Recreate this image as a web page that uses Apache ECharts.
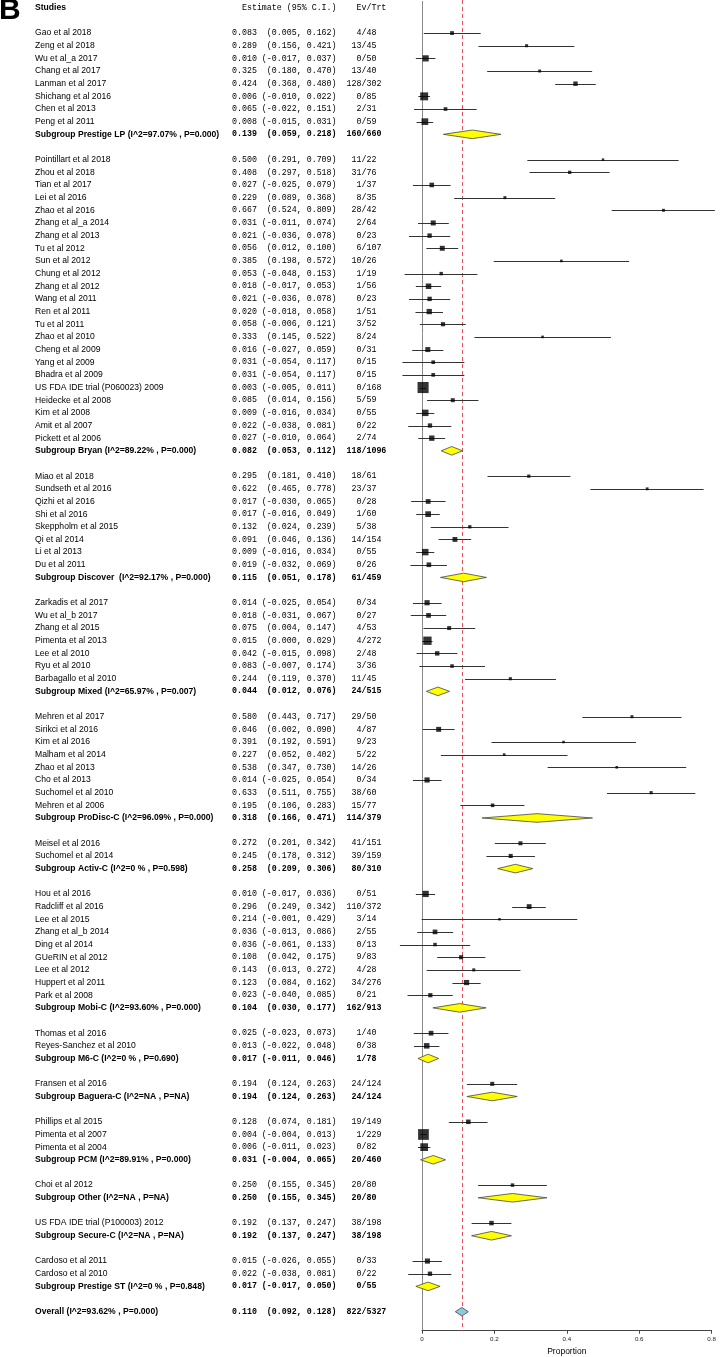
<!DOCTYPE html>
<html><head><meta charset="utf-8">
<script src="https://cdn.jsdelivr.net/npm/echarts@6/dist/echarts.min.js"></script>
<style>html,body{margin:0;padding:0;background:#fff}#c{width:720px;height:1357px}</style>
</head><body><div id="c"></div>
<script>
// ---- data ----
const headers = ['Studies', 'Estimate (95% C.I.)', 'Ev/Trt'];
const names = [
'Gao et al 2018','Zeng et al 2018','Wu et al_a 2017','Chang et al 2017','Lanman et al 2017','Shichang et al 2016','Chen et al 2013','Peng et al 2011','Subgroup Prestige LP (I^2=97.07% , P=0.000)','',
'Pointillart et al 2018','Zhou et al 2018','Tian et al 2017','Lei et al 2016','Zhao et al 2016','Zhang et al_a 2014','Zhang et al 2013','Tu et al 2012','Sun et al 2012','Chung et al 2012','Zhang et al 2012','Wang et al 2011','Ren et al 2011','Tu et al 2011','Zhao et al 2010','Cheng et al 2009','Yang et al 2009','Bhadra et al 2009','US FDA IDE trial (P060023) 2009','Heidecke et al 2008','Kim et al 2008','Amit et al 2007','Pickett et al 2006','Subgroup Bryan (I^2=89.22% , P=0.000)','',
'Miao et al 2018','Sundseth et al 2016','Qizhi et al 2016','Shi et al 2016','Skeppholm et al 2015','Qi et al 2014','Li et al 2013','Du et al 2011','Subgroup Discover  (I^2=92.17% , P=0.000)','',
'Zarkadis et al 2017','Wu et al_b 2017','Zhang et al 2015','Pimenta et al 2013','Lee et al 2010','Ryu et al 2010','Barbagallo et al 2010','Subgroup Mixed (I^2=65.97% , P=0.007)','',
'Mehren et al 2017','Sirikci et al 2016','Kim et al 2016','Malham et al 2014','Zhao et al 2013','Cho et al 2013','Suchomel et al 2010','Mehren et al 2006','Subgroup ProDisc-C (I^2=96.09% , P=0.000)','',
'Meisel et al 2016','Suchomel et al 2014','Subgroup Activ-C (I^2=0 % , P=0.598)','',
'Hou et al 2016','Radcliff et al 2016','Lee et al 2015','Zhang et al_b 2014','Ding et al 2014','GUeRIN et al 2012','Lee et al 2012','Huppert et al 2011','Park et al 2008','Subgroup Mobi-C (I^2=93.60% , P=0.000)','',
'Thomas et al 2016','Reyes-Sanchez et al 2010','Subgroup M6-C (I^2=0 % , P=0.690)','',
'Fransen et al 2016','Subgroup Baguera-C (I^2=NA , P=NA)','',
'Phillips et al 2015','Pimenta et al 2007','Pimenta et al 2004','Subgroup PCM (I^2=89.91% , P=0.000)','',
'Choi et al 2012','Subgroup Other (I^2=NA , P=NA)','',
'US FDA IDE trial (P100003) 2012','Subgroup Secure-C (I^2=NA , P=NA)','',
'Cardoso et al 2011','Cardoso et al 2010','Subgroup Prestige ST (I^2=0 % , P=0.848)','',
'Overall (I^2=93.62% , P=0.000)'
];
const est = [
0.083,0.289,0.010,0.325,0.424,0.006,0.065,0.008,0.139,null,
0.500,0.408,0.027,0.229,0.667,0.031,0.021,0.056,0.385,0.053,0.018,0.021,0.020,0.058,0.333,0.016,0.031,0.031,0.003,0.085,0.009,0.022,0.027,0.082,null,
0.295,0.622,0.017,0.017,0.132,0.091,0.009,0.019,0.115,null,
0.014,0.018,0.075,0.015,0.042,0.083,0.244,0.044,null,
0.580,0.046,0.391,0.227,0.538,0.014,0.633,0.195,0.318,null,
0.272,0.245,0.258,null,
0.010,0.296,0.214,0.036,0.036,0.108,0.143,0.123,0.023,0.104,null,
0.025,0.013,0.017,null,
0.194,0.194,null,
0.128,0.004,0.006,0.031,null,
0.250,0.250,null,
0.192,0.192,null,
0.015,0.022,0.017,null,
0.110];
const lower = [
0.005,0.156,-0.017,0.180,0.368,-0.010,-0.022,-0.015,0.059,null,
0.291,0.297,-0.025,0.089,0.524,-0.011,-0.036,0.012,0.198,-0.048,-0.017,-0.036,-0.018,-0.006,0.145,-0.027,-0.054,-0.054,-0.005,0.014,-0.016,-0.038,-0.010,0.053,null,
0.181,0.465,-0.030,-0.016,0.024,0.046,-0.016,-0.032,0.051,null,
-0.025,-0.031,0.004,0.000,-0.015,-0.007,0.119,0.012,null,
0.443,0.002,0.192,0.052,0.347,-0.025,0.511,0.106,0.166,null,
0.201,0.178,0.209,null,
-0.017,0.249,-0.001,-0.013,-0.061,0.042,0.013,0.084,-0.040,0.030,null,
-0.023,-0.022,-0.011,null,
0.124,0.124,null,
0.074,-0.004,-0.011,-0.004,null,
0.155,0.155,null,
0.137,0.137,null,
-0.026,-0.038,-0.017,null,
0.092];
const upper = [
0.162,0.421,0.037,0.470,0.480,0.022,0.151,0.031,0.218,null,
0.709,0.518,0.079,0.368,0.809,0.074,0.078,0.100,0.572,0.153,0.053,0.078,0.058,0.121,0.522,0.059,0.117,0.117,0.011,0.156,0.034,0.081,0.064,0.112,null,
0.410,0.778,0.065,0.049,0.239,0.136,0.034,0.069,0.178,null,
0.054,0.067,0.147,0.029,0.098,0.174,0.370,0.076,null,
0.717,0.090,0.591,0.402,0.730,0.054,0.755,0.283,0.471,null,
0.342,0.312,0.306,null,
0.036,0.342,0.429,0.086,0.133,0.175,0.272,0.162,0.085,0.177,null,
0.073,0.048,0.046,null,
0.263,0.263,null,
0.181,0.013,0.023,0.065,null,
0.345,0.345,null,
0.247,0.247,null,
0.055,0.081,0.050,null,
0.128];
const events = [
4,13,0,13,128,0,2,0,160,null,
11,31,1,8,28,2,0,6,10,1,1,0,1,3,8,0,0,0,0,5,0,0,2,118,null,
18,23,0,1,5,14,0,0,61,null,
0,0,4,4,2,3,11,24,null,
29,4,9,5,14,0,38,15,114,null,
41,39,80,null,
0,110,3,2,0,9,4,34,0,162,null,
1,0,1,null,
24,24,null,
19,1,0,20,null,
20,20,null,
38,38,null,
0,0,0,null,
822];
const totals = [
48,45,50,40,302,85,31,59,660,null,
22,76,37,35,42,64,23,107,26,19,56,23,51,52,24,31,15,15,168,59,55,22,74,1096,null,
61,37,28,60,38,154,55,26,459,null,
34,27,53,272,48,36,45,515,null,
50,87,23,22,26,34,60,77,379,null,
151,159,310,null,
51,372,14,55,13,83,28,276,21,913,null,
40,38,78,null,
124,124,null,
149,229,82,460,null,
80,80,null,
198,198,null,
33,22,55,null,
5327];
const xTicks = [0, 0.2, 0.4, 0.6, 0.8];
const xTickLabels = ['0', '0.2', '0.4', '0.6', '0.8'];
const xName = 'Proportion';
const panelLetter = 'B';

// ---- build ----
const nRows = names.length;
const cats = [];
for (let i = 0; i < nRows + 3; i++) cats.push(String(i));
const catOf = i => i + 2;
const kindOf = i => { const s = names[i]; if (!s) return ''; if (s.indexOf('Subgroup') === 0) return 'g'; if (s.indexOf('Overall') === 0) return 'o'; return 's'; };
function estText(i) {
  const l = lower[i];
  return est[i].toFixed(3) + (l < 0 ? ' ' : '  ') + '(' + l.toFixed(3) + ', ' + upper[i].toFixed(3) + ')' +
    '  ' + String(events[i]).padStart(3, ' ') + '/' + totals[i];
}
const ciData = [], boxData = [], diaData = [];
for (let i = 0; i < nRows; i++) {
  const k = kindOf(i);
  if (k === 's') {
    ciData.push([lower[i], upper[i], catOf(i)]);
    boxData.push([est[i], catOf(i), lower[i], upper[i]]);
  } else if (k === 'g' || k === 'o') {
    diaData.push([lower[i], est[i], upper[i], catOf(i), k === 'o' ? 1 : 0]);
  }
}
const overallEst = est[nRows - 1];

const SANS = '"Liberation Sans", Arial, sans-serif';
const MONO = '"Liberation Mono", "DejaVu Sans Mono", monospace';
const FS = 8.6, MFS = 8.3;

const chart = echarts.init(document.getElementById('c'), null, { renderer: 'canvas' });
chart.setOption({
  backgroundColor: '#fff',
  animation: false,
  graphic: [{
    type: 'text', left: -1, top: -4,
    style: { text: panelLetter, font: 'bold 30px ' + SANS, fill: '#000' }
  }],
  grid: { left: 422, right: 8.4, top: 1.4, bottom: 26.3, containLabel: false, outerBoundsMode: 'none' },
  xAxis: {
    type: 'value', min: 0, max: 0.8, interval: 0.2,
    name: xName, nameLocation: 'middle', nameGap: 14,
    nameTextStyle: { fontFamily: SANS, fontSize: 8.5, color: '#000' },
    axisLine: { show: true, lineStyle: { color: '#444', width: 1 } },
    axisTick: { show: true, length: 3, lineStyle: { color: '#444' } },
    splitLine: { show: false },
    axisLabel: {
      fontFamily: SANS, fontSize: 6.2, color: '#222', margin: 6,
      formatter: v => { const j = xTicks.findIndex(t => Math.abs(t - v) < 1e-9); return j >= 0 ? xTickLabels[j] : ''; }
    }
  },
  yAxis: [{
    type: 'category', data: cats, inverse: true, position: 'left',
    axisLine: { show: true, lineStyle: { color: '#8a8a8a', width: 1 } },
    axisTick: { show: false }, splitLine: { show: false },
    axisLabel: {
      interval: 0, align: 'left', verticalAlign: 'middle', margin: 387,
      fontFamily: SANS, fontSize: FS, color: '#000',
      formatter: (v, idx) => {
        if (idx === 0) return '{b|' + headers[0] + '}';
        const i = idx - 2;
        if (i < 0 || i >= nRows || !names[i]) return '';
        return kindOf(i) === 's' ? '{n|' + names[i] + '}' : '{b|' + names[i] + '}';
      },
      rich: {
        n: { fontFamily: SANS, fontSize: FS, color: '#000' },
        b: { fontFamily: SANS, fontSize: FS, fontWeight: 'bold', color: '#000' }
      }
    }
  }, {
    type: 'category', data: cats, inverse: true, position: 'left',
    axisLine: { show: false }, axisTick: { show: false }, splitLine: { show: false },
    axisLabel: {
      interval: 0, align: 'left', verticalAlign: 'middle', margin: 190,
      fontFamily: MONO, fontSize: MFS, color: '#000',
      formatter: (v, idx) => {
        if (idx === 0) return '{m|  ' + headers[1] + '    ' + headers[2] + '}';
        const i = idx - 2;
        if (i < 0 || i >= nRows || est[i] == null) return '';
        return kindOf(i) === 's' ? '{m|' + estText(i) + '}' : '{mb|' + estText(i) + '}';
      },
      rich: {
        m: { fontFamily: MONO, fontSize: MFS, color: '#000' },
        mb: { fontFamily: MONO, fontSize: MFS, fontWeight: 'bold', color: '#000' }
      }
    }
  }],
  series: [{
    name: 'ref', type: 'custom', clip: false, z: 1,
    xAxisIndex: 0, yAxisIndex: 0,
    data: [[overallEst, 0]], encode: { x: 0, y: 1 },
    renderItem: (params, api) => {
      const p = api.coord([api.value(0), 0]);
      const cs = params.coordSys;
      const x = Math.round(p[0]) + 0.5;
      return { type: 'line', shape: { x1: x, y1: 0, x2: x, y2: cs.y + cs.height }, style: { stroke: '#e8505a', lineWidth: 1, lineDash: [4, 3] } };
    }
  }, {
    name: 'ci', type: 'custom', clip: false, z: 2,
    xAxisIndex: 0, yAxisIndex: 0,
    data: ciData, encode: { x: [0, 1], y: 2 },
    renderItem: (params, api) => {
      const a = api.coord([api.value(0), api.value(2)]);
      const b = api.coord([api.value(1), api.value(2)]);
      const y = Math.round(a[1]) + 0.5;
      return { type: 'line', shape: { x1: a[0], y1: y, x2: b[0], y2: y }, style: { stroke: '#333', lineWidth: 1 } };
    }
  }, {
    name: 'box', type: 'scatter', z: 3,
    xAxisIndex: 0, yAxisIndex: 0,
    data: boxData, symbol: 'rect',
    symbolSize: v => 1.35 / Math.sqrt(v[3] - v[2]) + 0.4,
    itemStyle: { color: '#000' }
  }, {
    name: 'diamond', type: 'custom', clip: false, z: 4,
    xAxisIndex: 0, yAxisIndex: 0,
    data: diaData, encode: { x: [0, 1, 2], y: 3 },
    renderItem: (params, api) => {
      const l = api.coord([api.value(0), api.value(3)]);
      const m = api.coord([api.value(1), api.value(3)]);
      const r = api.coord([api.value(2), api.value(3)]);
      const h = 4.3;
      return {
        type: 'polygon',
        shape: { points: [[l[0], l[1]], [m[0], m[1] - h], [r[0], r[1]], [m[0], m[1] + h]] },
        style: { fill: api.value(4) === 1 ? '#8ccbdc' : '#ffff00', stroke: '#444', lineWidth: 0.8 }
      };
    }
  }]
});
</script>
</body></html>
